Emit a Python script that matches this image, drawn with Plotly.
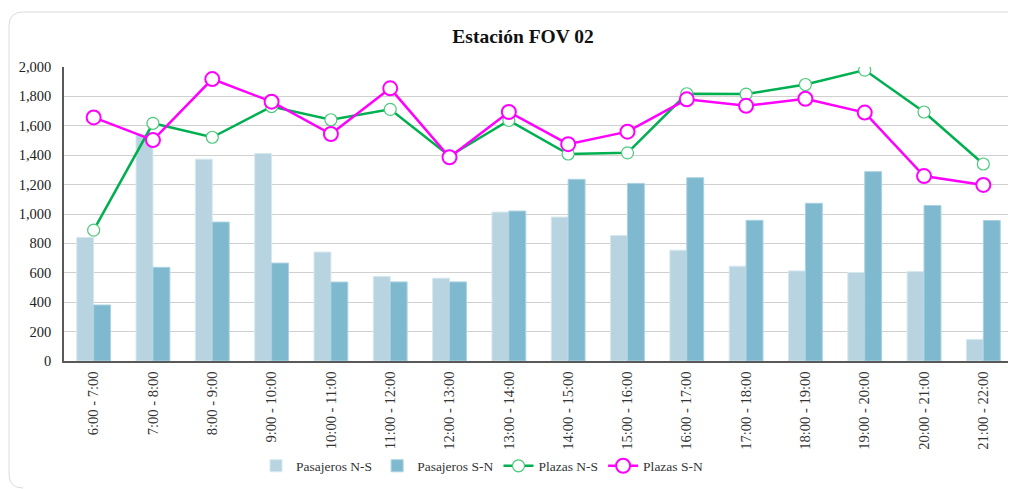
import plotly.graph_objects as go

categorias = ["6:00 - 7:00", "7:00 - 8:00", "8:00 - 9:00", "9:00 - 10:00", "10:00 - 11:00",
              "11:00 - 12:00", "12:00 - 13:00", "13:00 - 14:00", "14:00 - 15:00", "15:00 - 16:00",
              "16:00 - 17:00", "17:00 - 18:00", "18:00 - 19:00", "19:00 - 20:00", "20:00 - 21:00",
              "21:00 - 22:00"]
pasajeros_ns = [840, 1543, 1373, 1412, 741, 574, 563, 1013, 979, 854, 754, 645, 613, 602, 609, 147]
pasajeros_sn = [381, 637, 945, 666, 537, 538, 538, 1020, 1236, 1208, 1247, 957, 1073, 1288, 1058, 956]
plazas_ns = [890, 1617, 1522, 1731, 1641, 1712, 1394, 1637, 1408, 1416, 1818, 1816, 1881, 1979, 1694, 1340]
plazas_sn = [1657, 1503, 1918, 1764, 1544, 1855, 1386, 1694, 1475, 1560, 1780, 1736, 1784, 1690, 1258, 1198]
y_ticks = [0, 200, 400, 600, 800, 1000, 1200, 1400, 1600, 1800, 2000]

SERIF = "Liberation Serif, Times New Roman, serif"

fig = go.Figure()
fig.add_trace(go.Bar(x=categorias, y=pasajeros_ns, name="Pasajeros N-S",
                     marker=dict(color="#B7D4E0", line=dict(color="#D6E8EF", width=1))))
fig.add_trace(go.Bar(x=categorias, y=pasajeros_sn, name="Pasajeros S-N",
                     marker=dict(color="#7EB9CF", line=dict(color="#A9D2E0", width=1))))
fig.add_trace(go.Scatter(x=categorias, y=plazas_ns, name="Plazas N-S", mode="lines+markers",
                         line=dict(color="#00B050", width=2.5),
                         marker=dict(size=12, color="white", line=dict(color="#4CC97C", width=1.2))))
fig.add_trace(go.Scatter(x=categorias, y=plazas_sn, name="Plazas S-N", mode="lines+markers",
                         line=dict(color="#FF00FF", width=2.5),
                         marker=dict(size=14, color="white", line=dict(color="#FF00FF", width=2))))

# figure sits at an 8px page offset; coordinates below are in figure pixels
FW, FH = 1008, 481
L, T, W, H = 56, 59, 949, 294
def px(x):
    return (x - L) / W
def py(y):
    return (T + H - y) / H
r = 14
x0, y0, x1, y1 = 1, 4, 1040, 480
path = (f"M {px(x0 + r)},{py(y1)} Q {px(x0)},{py(y1)} {px(x0)},{py(y1 - r)} "
        f"L {px(x0)},{py(y0 + r)} "
        f"Q {px(x0)},{py(y0)} {px(x0 + r)},{py(y0)} L {px(x1)},{py(y0)}")

fig.update_layout(
    width=FW, height=FH,
    margin=dict(l=L, r=FW - L - W, t=T, b=FH - T - H),
    paper_bgcolor="white", plot_bgcolor="white",
    barmode="group", bargap=0.43, bargroupgap=0,
    title=dict(text="<b>Estación FOV 02</b>", x=0.511, xanchor="center", y=1 - 28 / FH, yanchor="middle",
               font=dict(family=SERIF, size=19.5, color="#111111")),
    font=dict(family=SERIF, size=12, color="#222222"),
    legend=dict(orientation="h", x=px(248), xanchor="left", y=py(458), yanchor="middle",
                font=dict(family=SERIF, size=13.5, color="#333333"), traceorder="normal",
                itemwidth=30),
    showlegend=True,
    shapes=[dict(type="path", path=path, xref="paper", yref="paper",
                 line=dict(color="#DADADA", width=1), layer="below")],
)
fig.update_xaxes(type="category", tickangle=-90, showline=True, linecolor="#595959", linewidth=1.5,
                 ticks="", showgrid=False, tickfont=dict(family=SERIF, size=14.5, color="#333333"),
                 range=[-0.5, 15.5], ticklabelstandoff=3)
fig.update_yaxes(range=[0, 2000], tickvals=y_ticks, tickformat=",", showline=True, linecolor="#595959",
                 linewidth=1.5, gridcolor="#D0D0D0", gridwidth=1, ticks="", zeroline=False,
                 tickfont=dict(family=SERIF, size=14.5, color="#222222"), ticklabelstandoff=8)

fig.write_html("out.html")
